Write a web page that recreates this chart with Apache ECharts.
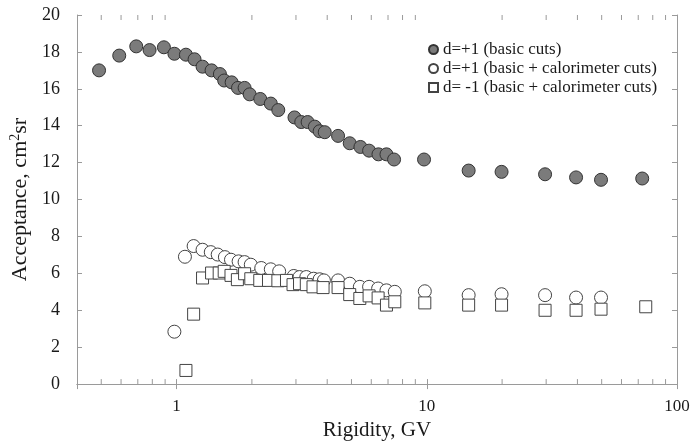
<!DOCTYPE html>
<html>
<head>
<meta charset="utf-8">
<script src="https://cdn.jsdelivr.net/npm/echarts@6/dist/echarts.min.js"></script>
<style>html,body{margin:0;padding:0;background:#fff}#c{width:693px;height:446px}</style>
</head>
<body>
<div id="c"></div>
<script>
// --- data ---
const rigidityBasic = [0.49, 0.59, 0.69, 0.78, 0.89, 0.98, 1.09, 1.18, 1.27, 1.38, 1.49, 1.55, 1.66, 1.76, 1.87, 1.96, 2.16, 2.38, 2.55, 2.96, 3.15, 3.34, 3.57, 3.73, 3.91, 4.42, 4.92, 5.43, 5.88, 6.41, 6.9, 7.4, 9.75, 14.7, 19.9, 29.7, 39.5, 49.7, 72.6];
const acceptanceBasic = [17.0, 17.8, 18.3, 18.1, 18.25, 17.9, 17.85, 17.6, 17.2, 17.0, 16.8, 16.45, 16.35, 16.05, 16.05, 15.7, 15.45, 15.2, 14.85, 14.45, 14.2, 14.2, 13.95, 13.7, 13.65, 13.45, 13.05, 12.85, 12.65, 12.45, 12.45, 12.17, 12.17, 11.57, 11.5, 11.37, 11.2, 11.07, 11.14];

const rigidityCaloPos = [0.98, 1.08, 1.17, 1.27, 1.37, 1.46, 1.56, 1.65, 1.77, 1.87, 1.98, 2.18, 2.38, 2.57, 2.94, 3.1, 3.3, 3.53, 3.73, 3.88, 4.42, 4.92, 5.4, 5.88, 6.39, 6.9, 7.45, 9.82, 14.7, 19.9, 29.7, 39.5, 49.7];
const acceptanceCaloPos = [2.84, 6.9, 7.48, 7.28, 7.15, 7.02, 6.88, 6.74, 6.65, 6.61, 6.47, 6.29, 6.22, 6.11, 5.86, 5.8, 5.8, 5.71, 5.68, 5.62, 5.62, 5.44, 5.27, 5.27, 5.18, 5.08, 5.0, 5.03, 4.82, 4.87, 4.82, 4.69, 4.69];

const rigidityCaloNeg = [1.09, 1.17, 1.27, 1.38, 1.48, 1.55, 1.65, 1.75, 1.87, 1.98, 2.15, 2.33, 2.54, 2.75, 2.92, 3.1, 3.3, 3.51, 3.85, 4.42, 4.92, 5.4, 5.88, 6.39, 6.9, 7.45, 9.82, 14.7, 19.9, 29.7, 39.5, 49.7, 75];
const acceptanceCaloNeg = [0.74, 3.79, 5.75, 6.02, 6.02, 6.11, 5.89, 5.66, 5.98, 5.71, 5.62, 5.62, 5.6, 5.62, 5.39, 5.44, 5.39, 5.27, 5.23, 5.23, 4.85, 4.64, 4.78, 4.67, 4.28, 4.46, 4.4, 4.28, 4.28, 4.0, 4.0, 4.06, 4.19];

const seriesNames = ['d=+1 (basic cuts)', 'd=+1 (basic + calorimeter cuts)', 'd= -1 (basic + calorimeter cuts)'];
const minorTickValues = [0.5, 0.6, 0.7, 0.8, 0.9, 2, 3, 4, 5, 6, 7, 8, 9, 20, 30, 40, 50, 60, 70, 80, 90];

const zip = (xs, ys) => xs.map((x, i) => [x, ys[i]]);
const FONT = '"Liberation Serif", "DejaVu Serif", serif';
const AXIS_COLOR = '#9a9a9a';
const TEXT_COLOR = '#1a1a1a';

const isPow10 = v => Math.abs(Math.log10(v) - Math.round(Math.log10(v))) < 1e-6;

const chart = echarts.init(document.getElementById('c'), null, {renderer: 'canvas'});
const xCommon = {
  type: 'log', logBase: 10, min: 0.4, max: 100,
  axisLine: {lineStyle: {color: AXIS_COLOR, width: 1}},
  axisTick: {inside: true, length: 5, lineStyle: {color: AXIS_COLOR}},
  splitLine: {show: false}, minorTick: {show: false}, minorSplitLine: {show: false}
};
const yCommon = {
  type: 'value', min: 0, max: 20, interval: 2,
  axisLine: {show: true, lineStyle: {color: AXIS_COLOR, width: 1}},
  axisTick: {show: true, inside: true, length: 5, lineStyle: {color: AXIS_COLOR}},
  splitLine: {show: false}
};

chart.setOption({
  animation: false,
  backgroundColor: '#fff',
  grid: {left: 77, right: 16, top: 15, bottom: 60, containLabel: false},
  legend: {
    orient: 'vertical', left: 423, top: 36, itemGap: 2, itemWidth: 9, itemHeight: 9,
    data: seriesNames,
    textStyle: {fontFamily: FONT, fontSize: 17, lineHeight: 17, color: TEXT_COLOR}
  },
  xAxis: [
    Object.assign({}, xCommon, {
      position: 'bottom',
      name: 'Rigidity, GV', nameLocation: 'middle', nameGap: 34,
      nameTextStyle: {fontFamily: FONT, fontSize: 21, color: TEXT_COLOR},
      axisLabel: {
        margin: 14, fontFamily: FONT, fontSize: 17, color: TEXT_COLOR,
        formatter: v => isPow10(v) ? String(Math.round(v)) : ''
      }
    }),
    Object.assign({}, xCommon, {position: 'top', axisLabel: {show: false}})
  ],
  yAxis: [
    Object.assign({}, yCommon, {
      position: 'left',
      name: '{a|Acceptance, cm}{s|2}{a|sr}', nameLocation: 'middle', nameGap: 36, nameRotate: 90,
      nameTextStyle: {
        fontFamily: FONT, fontSize: 22, color: TEXT_COLOR,
        rich: {
          a: {fontFamily: FONT, fontSize: 22, color: TEXT_COLOR},
          s: {fontFamily: FONT, fontSize: 14, color: TEXT_COLOR, verticalAlign: 'top', padding: [0, 0, 9, 0]}
        }
      },
      axisLabel: {margin: 17, fontFamily: FONT, fontSize: 18, color: TEXT_COLOR}
    }),
    Object.assign({}, yCommon, {position: 'right', axisLabel: {show: false}})
  ],
  series: [
    {
      name: seriesNames[0], type: 'scatter', symbol: 'circle', symbolSize: 13,
      data: zip(rigidityBasic, acceptanceBasic),
      itemStyle: {color: '#7b7b7b', borderColor: '#333', borderWidth: 1, opacity: 1},
      z: 3
    },
    {
      name: seriesNames[1], type: 'scatter', symbol: 'circle', symbolSize: 13,
      data: zip(rigidityCaloPos, acceptanceCaloPos),
      itemStyle: {color: '#fff', borderColor: '#444', borderWidth: 1, opacity: 1},
      z: 3
    },
    {
      name: seriesNames[2], type: 'scatter', symbol: 'rect', symbolSize: 12,
      data: zip(rigidityCaloNeg, acceptanceCaloNeg),
      itemStyle: {color: '#fff', borderColor: '#444', borderWidth: 1, opacity: 1},
      z: 4
    },
    {
      name: 'minorTicks', type: 'custom', silent: true, clip: false,
      data: minorTickValues.map(v => [v, 0]),
      encode: {x: 0, y: 1},
      renderItem: (params, api) => {
        const v = api.value(0);
        const b = api.coord([v, 0]);
        const t = api.coord([v, 20]);
        return {type: 'group', children: [
          {type: 'line', shape: {x1: b[0], y1: b[1], x2: b[0], y2: b[1] - 5}, style: {stroke: AXIS_COLOR, lineWidth: 1}},
          {type: 'line', shape: {x1: t[0], y1: t[1], x2: t[0], y2: t[1] + 5}, style: {stroke: AXIS_COLOR, lineWidth: 1}}
        ]};
      },
      z: 1
    }
  ]
});
</script>
</body>
</html>
